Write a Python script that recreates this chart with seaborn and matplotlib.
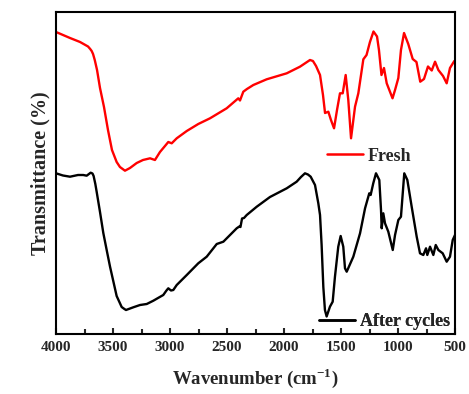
import numpy as np
import pandas as pd
import matplotlib
matplotlib.use("Agg")
import matplotlib.pyplot as plt
from matplotlib.ticker import MultipleLocator
from matplotlib.lines import Line2D
import seaborn as sns

# FTIR spectra (wavenumber in cm^-1, transmittance in arbitrary units)
fresh_wn = [4000, 3877, 3789, 3719, 3700, 3687, 3675, 3660, 3640, 3614, 3579, 3544, 3509,
            3468, 3439, 3395, 3351, 3292, 3237, 3175, 3132, 3088, 3044, 3015, 2985, 2941,
            2853, 2752, 2649, 2503, 2401, 2386, 2357, 2325, 2269, 2152, 1976, 1860,
            1772, 1746, 1719, 1684, 1658, 1640, 1611, 1588, 1561, 1535, 1509, 1485,
            1459, 1436, 1412, 1377, 1348, 1304, 1276, 1246, 1215, 1184, 1167, 1145,
            1123, 1099, 1048, 1026, 997, 974, 947, 910, 871, 838, 805, 772, 737, 704,
            675, 646, 605, 573, 544, 506, 500]
fresh_t = [302.0, 296.0, 292.0, 287.5, 285.0, 283.0, 280.0, 274.0, 264.0, 246.0, 227.0,
           204.0, 184.0, 172.0, 167.0, 163.3, 166.0, 171.0, 174.0, 175.7, 174.0, 182.0,
           188.0, 192.0, 190.7, 195.7, 203.0, 210.0, 215.7, 225.7, 235.7, 233.5, 242.3,
           245.0, 249.0, 254.7, 260.7, 267.3, 274.0, 273.0, 268.0, 259.0, 239.0, 221.0,
           222.3, 214.0, 205.7, 224.0, 240.7, 240.7, 259.0, 234.0, 195.7, 227.3, 240.7,
           274.7, 279.0, 292.0, 302.5, 297.5, 284.0, 259.0, 266.0, 250.7, 235.7, 244.0,
           256.0, 284.0, 301.0, 290.0, 275.0, 272.0, 252.3, 255.0, 267.5, 263.5, 272.3,
           264.0, 258.0, 250.7, 266.0, 273.0, 272.5]

cycled_wn = [4000, 3939, 3877, 3807, 3761, 3731, 3696, 3680, 3670, 3655, 3643, 3614, 3585,
             3552, 3526, 3468, 3440, 3424, 3400, 3386, 3322, 3263, 3204, 3146, 3105, 3059,
             3031, 3015, 2991, 2971, 2941, 2853, 2752, 2678, 2590, 2532, 2415, 2392, 2382,
             2368, 2351, 2327, 2239, 2123, 1976, 1889, 1851, 1816, 1790, 1766, 1728, 1699,
             1684, 1670, 1655, 1641, 1626, 1597, 1573, 1553, 1524, 1503, 1480, 1465,
             1450, 1392, 1333, 1289, 1252, 1240, 1217, 1193, 1164, 1149, 1143, 1129,
             1114, 1085, 1046, 1026, 997, 974, 945, 918, 880, 836, 807, 778, 754, 743,
             719, 690, 669, 646, 608, 573, 544, 520, 500]
cycled_t = [160.7, 158.5, 157.3, 159.0, 159.0, 158.3, 161.3, 160.5, 158.0, 150.0, 142.0,
            122.0, 101.0, 82.0, 67.3, 38.0, 31.0, 27.0, 25.0, 24.0, 26.7, 29.0, 30.0, 33.3,
            36.0, 39.0, 43.5, 45.7, 43.5, 44.0, 49.0, 59.0, 70.7, 77.3, 90.0, 92.3, 105.7,
            107.5, 107.0, 115.5, 116.0, 119.0, 127.3, 137.0, 145.7, 152.3, 157.0, 160.7,
            159.5, 157.3, 149.0, 130.7, 119.0, 89.0, 47.0, 24.0, 17.5, 27.3, 32.3, 57.3,
            87.3, 98.0, 87.3, 65.7, 62.3, 77.3, 100.7, 125.7, 140.7, 139.0, 150.7, 160.7,
            154.0, 124.0, 105.7, 120.7, 110.7, 102.3, 84.0, 99.0, 114.0, 117.3, 160.7,
            154.0, 127.3, 97.3, 80.7, 79.0, 85.7, 79.0, 87.3, 79.0, 89.0, 84.0, 80.7,
            72.3, 77.3, 94.0, 99.0]

series_names = ["Fresh", "After cycles"]
series_colors = ["#ff0000", "#000000"]

df = pd.concat([
    pd.DataFrame({"Wavenumber": fresh_wn, "T": fresh_t, "Sample": series_names[0]}),
    pd.DataFrame({"Wavenumber": cycled_wn, "T": cycled_t, "Sample": series_names[1]}),
], ignore_index=True)

sns.set_style("ticks")
plt.rcParams["font.family"] = ["Liberation Serif", "DejaVu Serif"]
plt.rcParams["font.weight"] = "bold"
plt.rcParams["mathtext.fontset"] = "custom"
plt.rcParams["mathtext.rm"] = "Liberation Serif:bold"
plt.rcParams["mathtext.bf"] = "Liberation Serif:bold"

fig = plt.figure(figsize=(4.69, 3.94), dpi=100)
ax = fig.add_axes([56 / 469, 60 / 394, 399 / 469, 322 / 394])

sns.lineplot(data=df, x="Wavenumber", y="T", hue="Sample",
             palette=dict(zip(series_names, series_colors)),
             estimator=None, sort=True, linewidth=1.7, legend=False, ax=ax)

ax.set_xlim(4000, 500)
ax.set_ylim(0, 322)
ax.xaxis.set_major_locator(MultipleLocator(500))
ax.xaxis.set_minor_locator(MultipleLocator(250))
ax.set_yticks([])
ax.tick_params(axis="x", which="both", direction="in", width=1.5,
               labelsize=11, pad=5, top=False)
ax.tick_params(axis="x", which="major", length=4.5)
ax.tick_params(axis="x", which="minor", length=3.5)
for lab in ax.get_xticklabels():
    lab.set_fontweight("bold")
for sp in ax.spines.values():
    sp.set_visible(True)
    sp.set_linewidth(1.5)
    sp.set_color("black")

ax.set_xlabel(r"Wavenumber (cm$^{-1}$)", fontsize=13.5, fontweight="bold", labelpad=9)
ax.set_ylabel("Transmittance (%)", fontsize=14.5, fontweight="bold", labelpad=4)

# individual legend entries placed next to each spectrum
leg_pos = [(0.680, 0.552), (0.660, 0.038)]
for name, color, pos in zip(series_names, series_colors, leg_pos):
    handle = Line2D([], [], color=color, linewidth=1.8)
    leg = ax.legend([handle], [name], loc="center left", bbox_to_anchor=pos,
                    frameon=False, borderpad=0, borderaxespad=0,
                    handlelength=1.95, handletextpad=0.3,
                    prop={"family": "Liberation Serif", "weight": "bold", "size": 13})
    ax.add_artist(leg)

fig.savefig("out.png", dpi=100, facecolor="white")
